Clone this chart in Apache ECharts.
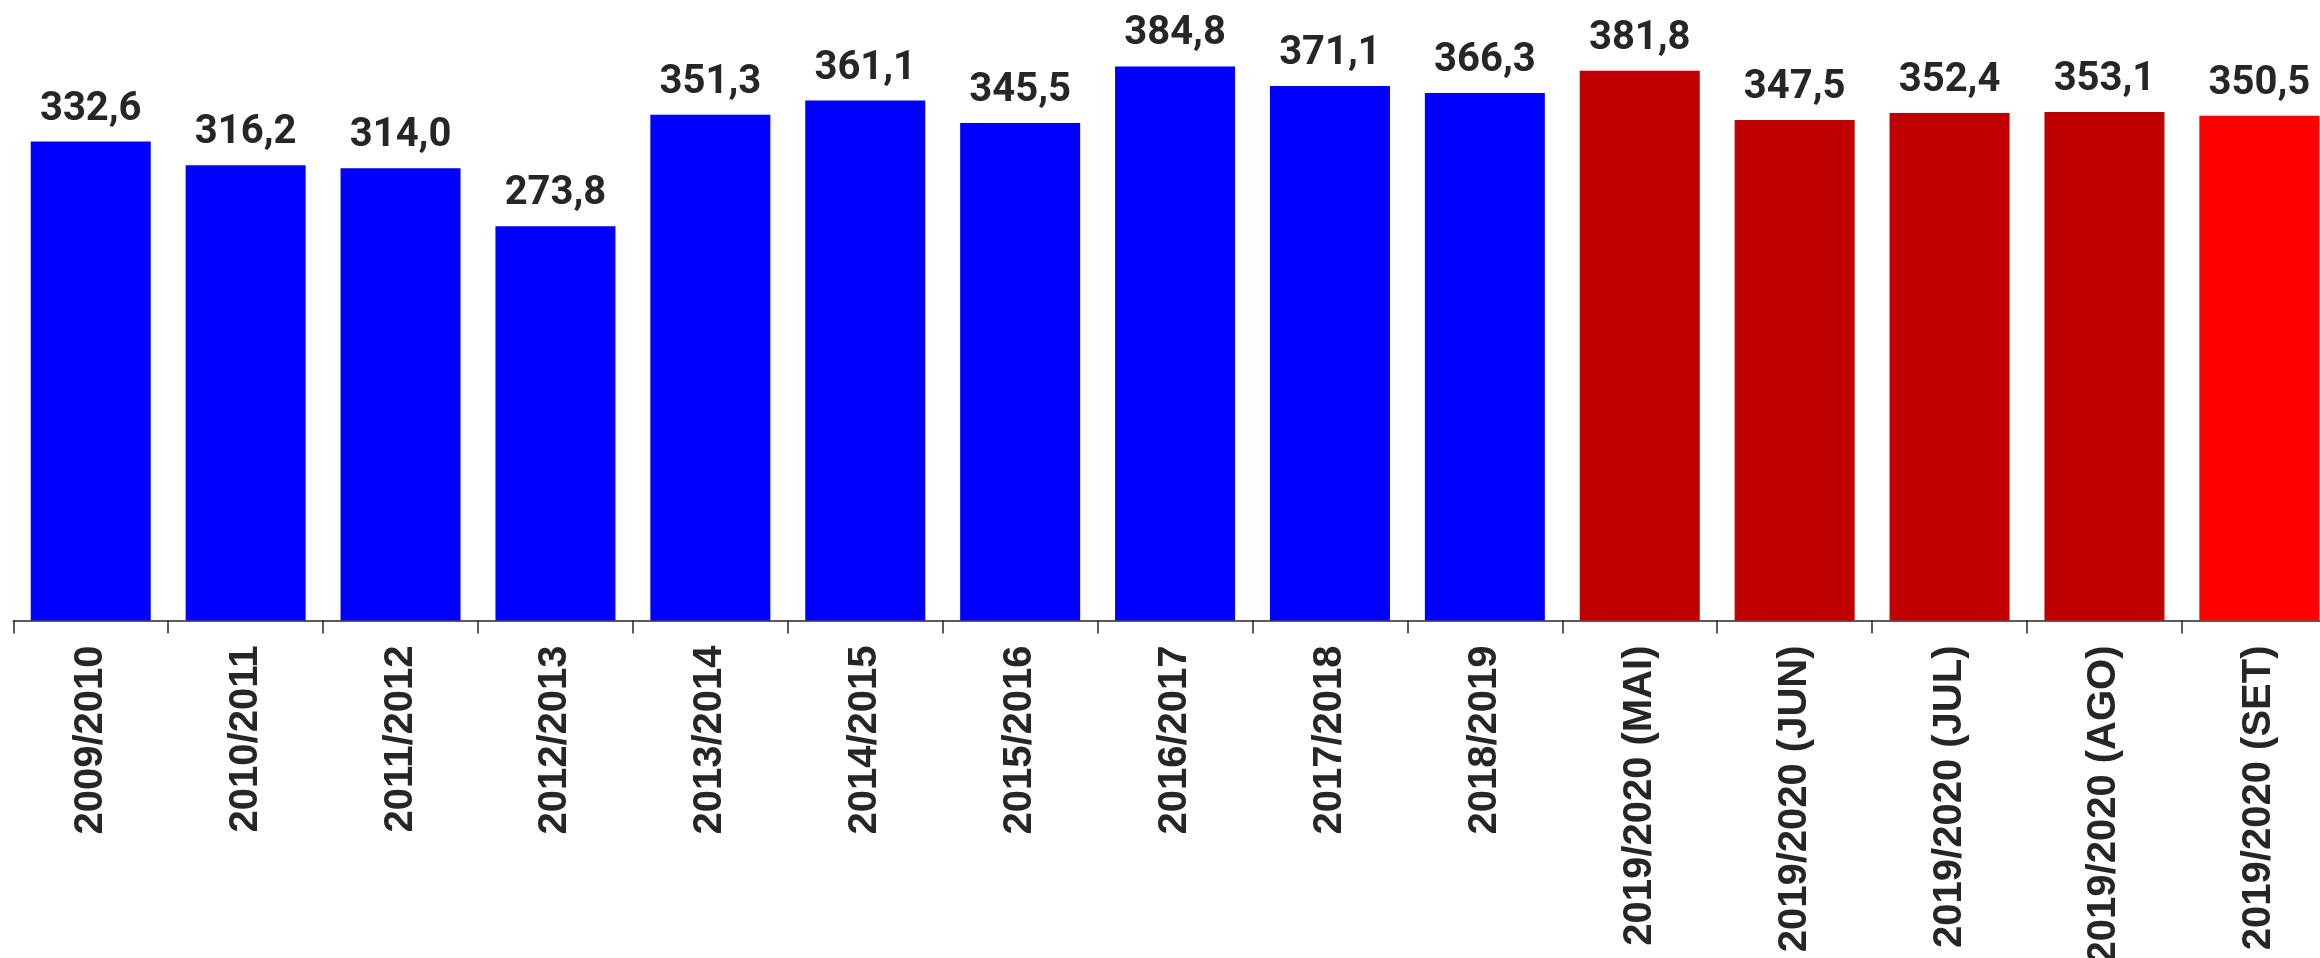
<!DOCTYPE html>
<html>
<head>
<meta charset="utf-8">
<script src="https://cdn.jsdelivr.net/npm/echarts@6/dist/echarts.min.js"></script>
<style>html,body{margin:0;padding:0;background:#fff}#c{width:2320px;height:958px}</style>
</head>
<body>
<div id="c"></div>
<script>
const categories = ['2009/2010','2010/2011','2011/2012','2012/2013','2013/2014','2014/2015','2015/2016','2016/2017','2017/2018','2018/2019','2019/2020 (MAI)','2019/2020 (JUN)','2019/2020 (JUL)','2019/2020 (AGO)','2019/2020 (SET)'];
const values = [332.6,316.2,314.0,273.8,351.3,361.1,345.5,384.8,371.1,366.3,381.8,347.5,352.4,353.1,350.5];
const groups = ['hist','hist','hist','hist','hist','hist','hist','hist','hist','hist','est','est','est','est','cur'];
const groupColors = {hist:'#0000FF', est:'#C00000', cur:'#FF0000'};

const chart = echarts.init(document.getElementById('c'), null, {renderer:'canvas'});
chart.setOption({
  animation:false,
  backgroundColor:'#ffffff',
  grid:{left:13.3, top:44.5, width:2323.5, height:576, containLabel:false, outerBoundsMode:'none'},
  xAxis:{
    type:'category',
    data:categories,
    axisLine:{lineStyle:{color:'#262626', width:1.5}},
    axisTick:{show:true, length:13, lineStyle:{color:'#262626', width:1.5}},
    axisLabel:{rotate:90, margin:25, fontFamily:'Liberation Sans', fontWeight:'bold', fontSize:40, color:'#262626', interval:0}
  },
  yAxis:{type:'value', min:0, max:400, show:false, splitLine:{show:false}},
  series:[{
    type:'bar',
    barWidth:120,
    data:values.map((v,i)=>({value:v, itemStyle:{color:groupColors[groups[i]]}})),
    label:{show:true, position:'top', distance:12, fontFamily:'Roboto', fontWeight:'bold', fontSize:40, color:'#262626',
      formatter:p=>p.value.toFixed(1).replace('.',',')}
  }]
});
</script>
</body>
</html>
